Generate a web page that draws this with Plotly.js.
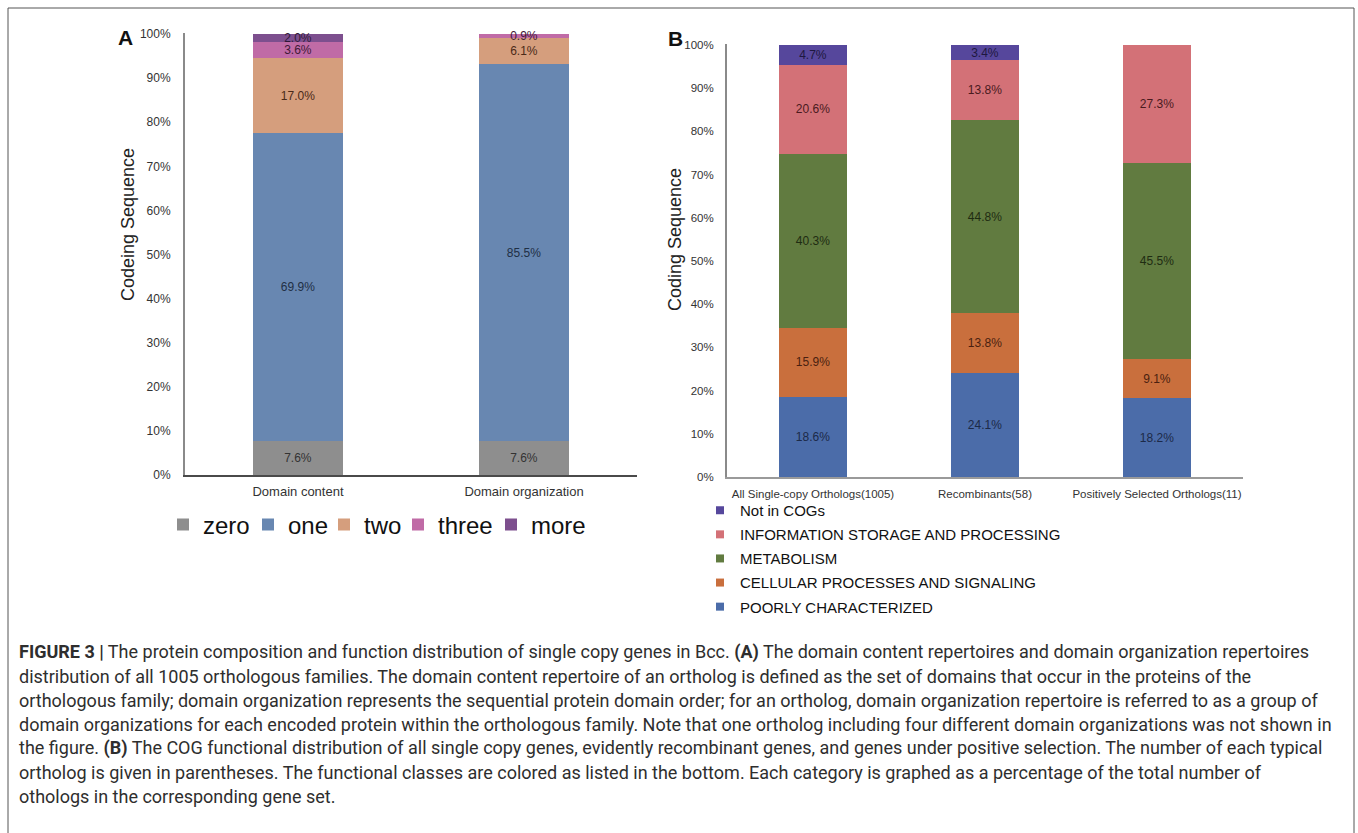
<!DOCTYPE html>
<html>
<head>
<meta charset="utf-8">
<script src="https://cdn.plot.ly/plotly-3.0.1.min.js"></script>
<style>
  html, body { margin: 0; padding: 0; background: #ffffff; }
  #fig { width: 1358px; height: 833px; }
</style>
</head>
<body>
<div id="fig"></div>
<script>
// ---- Panel A: domain repertoires (percent of orthologous families) ----
const groupsA = ['Domain content', 'Domain organization'];
const seriesA = ['zero', 'one', 'two', 'three', 'more'];
const zeroA  = [7.6, 7.6];
const oneA   = [69.9, 85.5];
const twoA   = [17.0, 6.1];
const threeA = [3.6, 0.9];
const moreA  = [2.0, 0.0];
const colorsA = ['#8e8e8e', '#6887b1', '#d59e7d', '#c06ba6', '#7d4f8e'];
const labelColorsA = ['#333333', '#1f2f45', '#4a2a18', '#3f1a38', '#2e1838'];

// ---- Panel B: COG functional classes (percent of orthologs) ----
const groupsB = ['All Single-copy Orthologs(1005)', 'Recombinants(58)', 'Positively Selected Orthologs(11)'];
const seriesB = ['POORLY CHARACTERIZED', 'CELLULAR PROCESSES AND SIGNALING', 'METABOLISM',
                 'INFORMATION STORAGE AND PROCESSING', 'Not in COGs'];
const poorlyB   = [18.6, 24.1, 18.2];
const cellularB = [15.9, 13.8, 9.1];
const metabB    = [40.3, 44.8, 45.5];
const infoB     = [20.6, 13.8, 27.3];
const notCogB   = [4.7, 3.4, 0.0];
const colorsB = ['#4b6ca9', '#c96f3d', '#617b40', '#d37177', '#56479c'];
const labelColorsB = ['#1c2a48', '#4a1f10', '#1f2c12', '#4a1a1e', '#1e1840'];

// ---- Caption ----
const captionLines = [
  '<b>FIGURE 3 |</b> The protein composition and function distribution of single copy genes in Bcc. <b>(A)</b> The domain content repertoires and domain organization repertoires',
  'distribution of all 1005 orthologous families. The domain content repertoire of an ortholog is defined as the set of domains that occur in the proteins of the',
  'orthologous family; domain organization represents the sequential protein domain order; for an ortholog, domain organization repertoire is referred to as a group of',
  'domain organizations for each encoded protein within the orthologous family. Note that one ortholog including four different domain organizations was not shown in',
  'the figure. <b>(B)</b> The COG functional distribution of all single copy genes, evidently recombinant genes, and genes under positive selection. The number of each typical',
  'ortholog is given in parentheses. The functional classes are colored as listed in the bottom. Each category is graphed as a percentage of the total number of',
  'othologs in the corresponding gene set.'
];

const W = 1358, H = 833;
const px = x => x / W;           // pixel -> paper x
const py = y => 1 - y / H;       // pixel -> paper y
const FONT = 'Liberation Sans, Arial, Helvetica, sans-serif';
const pct = v => (v > 0 ? v.toFixed(1) + '%' : '');
const Y_TOP = 100.25;            // a little headroom so rounded stacks (100.1%) keep their labels

// panel A legend: one legend box per series, laid out in a row
const legendIdsA = ['legend', 'legend2', 'legend3', 'legend4', 'legend5'];
const legendTextXA = [202, 287, 363, 437, 530];

const traces = [];

const valuesA = [zeroA, oneA, twoA, threeA, moreA];
seriesA.forEach((name, i) => {
  traces.push({
    type: 'bar', name: name, x: groupsA, y: valuesA[i],
    xaxis: 'x', yaxis: 'y', width: 0.4,
    marker: { color: colorsA[i], line: { width: 0 } },
    text: valuesA[i].map(pct), textposition: 'inside', insidetextanchor: 'middle',
    constraintext: 'none', cliponaxis: false,
    textfont: { family: FONT, size: 12, color: labelColorsA[i] },
    legend: legendIdsA[i], showlegend: true, hoverinfo: 'skip'
  });
});

const valuesB = [poorlyB, cellularB, metabB, infoB, notCogB];
seriesB.forEach((name, i) => {
  traces.push({
    type: 'bar', name: name, x: groupsB, y: valuesB[i],
    xaxis: 'x2', yaxis: 'y2', width: 0.4,
    marker: { color: colorsB[i], line: { width: 0 } },
    text: valuesB[i].map(pct), textposition: 'inside', insidetextanchor: 'middle',
    constraintext: 'none', cliponaxis: false,
    textfont: { family: FONT, size: 12, color: labelColorsB[i] },
    showlegend: false, hoverinfo: 'skip'
  });
});
// legend keys for panel B (small square swatches, top class listed first)
for (let i = seriesB.length - 1; i >= 0; i--) {
  traces.push({
    type: 'scatter', mode: 'markers', name: seriesB[i], x: [null], y: [null],
    xaxis: 'x2', yaxis: 'y2',
    marker: { symbol: 'square', size: 8, color: colorsB[i] },
    legend: 'legend6', legendgroup: 'g' + i, showlegend: true, hoverinfo: 'skip'
  });
}

const annotations = [
  { text: '<b>A</b>', x: px(125), y: py(37), xref: 'paper', yref: 'paper', xanchor: 'center', yanchor: 'middle',
    showarrow: false, font: { family: FONT, size: 21, color: '#111' } },
  { text: '<b>B</b>', x: px(675), y: py(39), xref: 'paper', yref: 'paper', xanchor: 'center', yanchor: 'middle',
    showarrow: false, font: { family: FONT, size: 21, color: '#111' } },
  { text: 'Codeing Sequence', textangle: -90, x: px(128), y: py(225), xref: 'paper', yref: 'paper',
    xanchor: 'center', yanchor: 'middle', showarrow: false, font: { family: FONT, size: 18, color: '#222' } },
  { text: 'Coding Sequence', textangle: -90, x: px(675), y: py(240), xref: 'paper', yref: 'paper',
    xanchor: 'center', yanchor: 'middle', showarrow: false, font: { family: FONT, size: 18, color: '#222' } }
];
captionLines.forEach((line, i) => {
  annotations.push({
    text: line, x: px(17), y: py(652 + 24 * i), xref: 'paper', yref: 'paper',
    xanchor: 'left', yanchor: 'middle', align: 'left', showarrow: false,
    font: { family: 'Roboto, sans-serif', size: 18, color: '#2e2e2e' }
  });
});

const layout = {
  width: W, height: H, autosize: false,
  margin: { l: 0, r: 0, t: 0, b: 0, pad: 0 },
  paper_bgcolor: '#ffffff', plot_bgcolor: '#ffffff',
  font: { family: FONT, color: '#333' },
  barmode: 'stack', hovermode: false,
  xaxis: {
    domain: [px(185), px(637)], anchor: 'y', type: 'category', range: [-0.5, 1.5],
    showline: true, linecolor: '#4a4a4a', linewidth: 1.5, showgrid: false, zeroline: false,
    ticks: '', ticklabelstandoff: 4, tickfont: { family: FONT, size: 13, color: '#333' }, fixedrange: true
  },
  yaxis: {
    domain: [py(475), py(475 - 441 * Y_TOP / 100)], anchor: 'x', range: [0, Y_TOP],
    tick0: 0, dtick: 10, ticksuffix: '%',
    showline: true, linecolor: '#8a8a8a', linewidth: 2, showgrid: false, zeroline: false,
    ticks: '', ticklabelstandoff: 10, tickfont: { family: FONT, size: 12, color: '#333' }, fixedrange: true
  },
  xaxis2: {
    domain: [px(727), px(1243)], anchor: 'y2', type: 'category', range: [-0.5, 2.5],
    showline: true, linecolor: '#9a9a9a', linewidth: 1.5, showgrid: false, zeroline: false,
    ticks: '', ticklabelstandoff: 6, tickfont: { family: FONT, size: 11.5, color: '#333' }, fixedrange: true
  },
  yaxis2: {
    domain: [py(477), py(477 - 432 * Y_TOP / 100)], anchor: 'x2', range: [0, Y_TOP],
    tick0: 0, dtick: 10, ticksuffix: '%',
    showline: true, linecolor: '#8a8a8a', linewidth: 2, showgrid: false, zeroline: false,
    ticks: '', ticklabelstandoff: 9, tickfont: { family: FONT, size: 11.5, color: '#333' }, fixedrange: true
  },
  legend6: {
    orientation: 'v', x: px(700), xanchor: 'left', y: py(494), yanchor: 'top',
    traceorder: 'grouped', tracegroupgap: 1.6, font: { family: FONT, size: 15, color: '#111' },
    bgcolor: 'rgba(0,0,0,0)', borderwidth: 0
  },
  shapes: [
    { type: 'rect', xref: 'paper', yref: 'paper', x0: px(8), x1: px(1354), y0: -0.05, y1: py(8),
      line: { color: '#555555', width: 1 }, fillcolor: 'rgba(0,0,0,0)' }
  ],
  annotations: annotations
};
legendIdsA.forEach((id, i) => {
  layout[id] = {
    orientation: 'h', x: px(legendTextXA[i] - 39), xanchor: 'left', y: py(525), yanchor: 'middle',
    font: { family: FONT, size: 24, color: '#111' }, bgcolor: 'rgba(0,0,0,0)', borderwidth: 0
  };
});

Plotly.newPlot('fig', traces, layout, { staticPlot: true, displayModeBar: false });
</script>
</body>
</html>
